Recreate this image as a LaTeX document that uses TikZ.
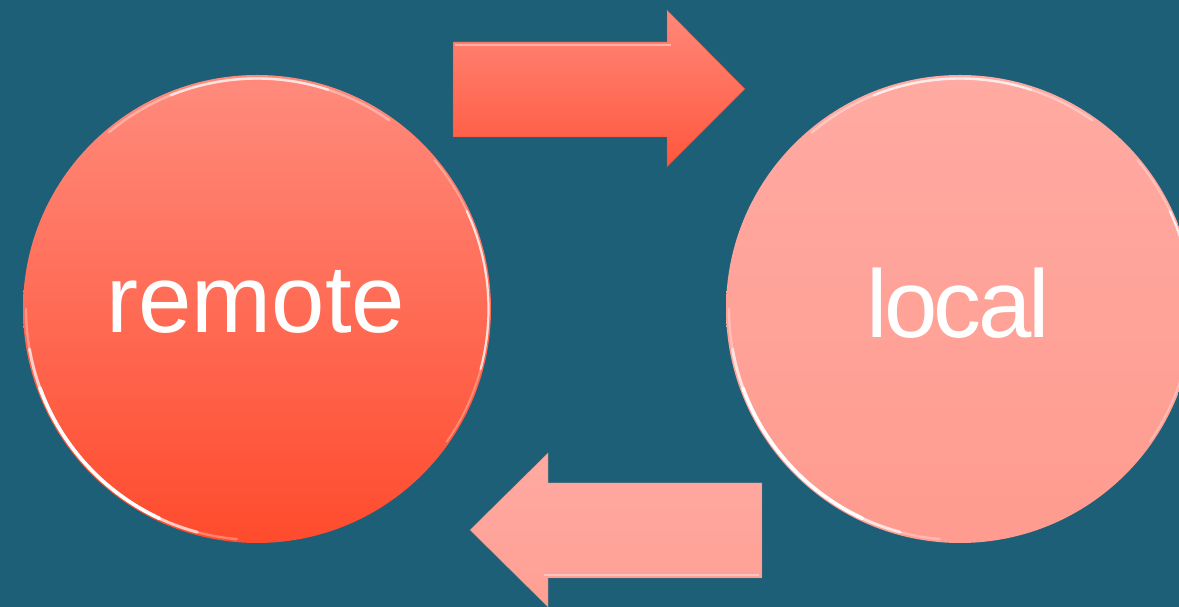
\documentclass[tikz,border=0pt]{standalone}
\usepackage{fontspec}
\setmainfont{Liberation Sans}
\definecolor{bg}{HTML}{1D5F77}
\definecolor{remoteTop}{HTML}{FF8B7D}
\definecolor{remoteBot}{HTML}{FF4B2D}
\definecolor{localTop}{HTML}{FFAAA2}
\definecolor{localBot}{HTML}{FF9B8F}
\definecolor{pushTop}{HTML}{FF887A}
\definecolor{pushBot}{HTML}{FF573C}
\definecolor{pullTop}{HTML}{FFAAA2}
\definecolor{pullBot}{HTML}{FF9F93}
\begin{document}
\begin{tikzpicture}[x=1pt,y=1pt,
  ball/.style={circle, inner sep=0pt, minimum size=468pt},
  lbl/.style={text=white, font=\fontsize{96}{96}\selectfont, inner sep=0pt, anchor=base},
  rim/.style={white, line cap=round},
  bevel/.style={white, opacity=0.4, line width=1.6pt},
]
\useasboundingbox (0,0) rectangle (1179,607);
\clip (0,0) rectangle (1179,607);
\fill[bg] (0,0) rectangle (1179,607);

% the two repositories
\node[ball, top color=remoteTop, bottom color=remoteBot] (remote) at (257,298) {};
\node[ball, top color=localTop, bottom color=localBot] (local) at (960,298) {};

% glossy rims of the circles: layered arcs that taper towards their ends
\foreach \c in {remote,local}{
  % lower left
  \draw[rim, opacity=0.3, line width=2.4pt] (\c.center) ++(180:231pt) arc[start angle=180, end angle=265, radius=231pt];
  \draw[rim, opacity=0.6, line width=3pt] (\c.center) ++(190:231pt) arc[start angle=190, end angle=255, radius=231pt];
  \draw[rim, opacity=1, line width=3.6pt] (\c.center) ++(200:231pt) arc[start angle=200, end angle=245, radius=231pt];
  % right side
  \draw[rim, opacity=0.3, line width=1.8pt] (\c.center) ++(-35:231.5pt) arc[start angle=-35, end angle=40, radius=231.5pt];
  \draw[rim, opacity=0.7, line width=2.2pt] (\c.center) ++(-15:231.5pt) arc[start angle=-15, end angle=25, radius=231.5pt];
  % top
  \draw[rim, opacity=0.35, line width=2.4pt] (\c.center) ++(55:230.5pt) arc[start angle=55, end angle=130, radius=230.5pt];
  \draw[rim, opacity=0.65, line width=2.4pt] (\c.center) ++(72:230.5pt) arc[start angle=72, end angle=112, radius=230.5pt];
}

% labels
\node[lbl] (remotetext) at (256,274) {remote};
\node[lbl] (localtext) at (958,269) {\addfontfeature{LetterSpace=-3.6}local};

% push arrow (left to right)
\coordinate (pa1) at (453,565);
\coordinate (pa2) at (667,565);
\coordinate (pa3) at (667,597);
\coordinate (pa4) at (745,518);
\coordinate (pa5) at (667,440);
\coordinate (pa6) at (667,470);
\coordinate (pa7) at (453,470);
\shade[top color=pushTop, bottom color=pushBot, draw=pushBot!80!black, draw opacity=0.35, line width=0.8pt]
  (pa1) -- (pa2) -- (pa3) -- (pa4) -- (pa5) -- (pa6) -- (pa7) -- cycle;
\draw[bevel] ([shift={(2,-3)}]pa1) -- ([shift={(4,-3)}]pa2);

% pull arrow (right to left)
\coordinate (pb1) at (762,124);
\coordinate (pb2) at (548,124);
\coordinate (pb3) at (548,154);
\coordinate (pb4) at (470,77);
\coordinate (pb5) at (548,0);
\coordinate (pb6) at (548,29);
\coordinate (pb7) at (762,29);
\shade[top color=pullTop, bottom color=pullBot, draw=pullBot!80!black, draw opacity=0.3, line width=0.8pt]
  (pb1) -- (pb2) -- (pb3) -- (pb4) -- (pb5) -- (pb6) -- (pb7) -- cycle;
\draw[bevel] ([shift={(-4,3)}]pb6) -- ([shift={(-3,3)}]pb7);
\end{tikzpicture}
\end{document}
